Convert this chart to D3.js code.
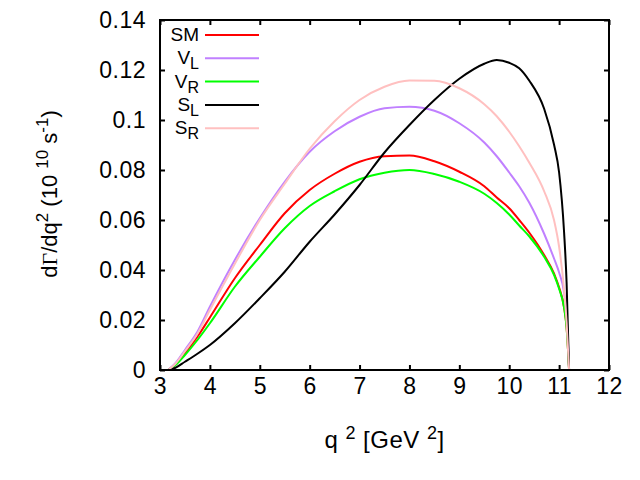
<!DOCTYPE html>
<html>
<head>
<meta charset="utf-8">
<script src="https://cdn.jsdelivr.net/npm/d3@7"></script>
<style>
  body { margin: 0; background: #fff; }
  text { font-family: "Liberation Sans", Arial, sans-serif; }
</style>
</head>
<body>
<div id="chart"></div>
<script>
// q^2 grid (GeV^2) and the five distributions
const q2 = [3.16, 3.3, 3.5, 3.75, 4, 4.5, 5, 5.5, 6, 6.5, 7, 7.5, 8, 8.5, 9, 9.5, 9.75, 10, 10.2, 10.4, 10.7, 10.9, 11.0, 11.1, 11.15, 11.2];
const sm = [0, 0.002, 0.0067, 0.0133, 0.021, 0.0367, 0.050, 0.0627, 0.072, 0.0785, 0.0833, 0.0855, 0.0858, 0.0835, 0.0793, 0.0735, 0.069, 0.0647, 0.060, 0.055, 0.046, 0.0385, 0.033, 0.025, 0.017, 0];
const vl = [0, 0.0025, 0.008, 0.0153, 0.0253, 0.044, 0.0607, 0.0753, 0.0873, 0.0955, 0.1013, 0.1047, 0.1053, 0.1037, 0.0987, 0.091, 0.0855, 0.079, 0.0735, 0.067, 0.0545, 0.0445, 0.039, 0.031, 0.022, 0];
const vr = [0, 0.0018, 0.006, 0.012, 0.0187, 0.0333, 0.0453, 0.0567, 0.0656, 0.0715, 0.0763, 0.0789, 0.080, 0.0784, 0.0753, 0.0705, 0.0668, 0.0622, 0.0578, 0.0535, 0.0453, 0.038, 0.0325, 0.025, 0.017, 0];
const sl = [0, 0.0008, 0.0033, 0.0065, 0.010, 0.0187, 0.0287, 0.0393, 0.0513, 0.0622, 0.074, 0.087, 0.098, 0.108, 0.1165, 0.1225, 0.124, 0.1229, 0.1207, 0.1158, 0.1045, 0.090, 0.079, 0.055, 0.035, 0];
const sr = [0, 0.0023, 0.0075, 0.0145, 0.024, 0.0425, 0.060, 0.0745, 0.0885, 0.0995, 0.108, 0.1133, 0.1158, 0.1157, 0.1127, 0.1063, 0.1015, 0.0953, 0.0895, 0.083, 0.0715, 0.0598, 0.0493, 0.032, 0.019, 0];

const names = [["S", "M"], ["V", "L"], ["V", "R"], ["S", "L"], ["S", "R"]];
const colors = ["#ff0000", "#c080ff", "#00ff00", "#000000", "#ffc0c0"];
const xTicks = [3, 4, 5, 6, 7, 8, 9, 10, 11, 12];
const yTicks = [0, 0.02, 0.04, 0.06, 0.08, 0.1, 0.12, 0.14];

const width = 640, height = 480;
const margin = {left: 160, right: 31, top: 20, bottom: 110};

const svg = d3.select("#chart")
  .append("svg")
  .attr("width", width)
  .attr("height", height);

svg.append("rect").attr("width", width).attr("height", height).attr("fill", "#fff");

const x = d3.scaleLinear().domain([3, 12]).range([margin.left, width - margin.right]);
const y = d3.scaleLinear().domain([0, 0.14]).range([height - margin.bottom, margin.top]);

const tick = 5;
const fmt = d3.format("~g");

// ticks on all four sides, pointing inward
svg.append("g")
  .attr("transform", `translate(0,${y(0)})`)
  .call(d3.axisBottom(x).tickValues(xTicks).tickSize(-tick).tickPadding(8).tickFormat(fmt))
  .call(g => g.select(".domain").remove());
svg.append("g")
  .attr("transform", `translate(0,${y(0.14)})`)
  .call(d3.axisTop(x).tickValues(xTicks).tickSize(-tick).tickFormat(""))
  .call(g => g.select(".domain").remove());
svg.append("g")
  .attr("transform", `translate(${x(3)},0)`)
  .call(d3.axisLeft(y).tickValues(yTicks).tickSize(-tick).tickPadding(14).tickFormat(fmt))
  .call(g => g.select(".domain").remove());
svg.append("g")
  .attr("transform", `translate(${x(12)},0)`)
  .call(d3.axisRight(y).tickValues(yTicks).tickSize(-tick).tickFormat(""))
  .call(g => g.select(".domain").remove());

svg.selectAll(".tick line").attr("stroke", "#000").attr("stroke-width", 2);
svg.selectAll(".tick text")
  .attr("fill", "#000")
  .style("font-size", "23px")
  .style("letter-spacing", "0.5px")
  .style("font-family", "Liberation Sans, Arial, sans-serif");

// curves
const series = [sm, vl, vr, sl, sr];
const line = d3.line()
  .x((d, i) => x(q2[i]))
  .y(d => y(d))
  .curve(d3.curveMonotoneX);

svg.append("g")
  .selectAll("path")
  .data(series)
  .join("path")
  .attr("fill", "none")
  .attr("stroke", (d, i) => colors[i])
  .attr("stroke-width", 2)
  .attr("d", line);

// frame
svg.append("rect")
  .attr("x", x(3)).attr("y", y(0.14))
  .attr("width", x(12) - x(3)).attr("height", y(0) - y(0.14))
  .attr("fill", "none").attr("stroke", "#000").attr("stroke-width", 2);

// legend
const key = svg.append("g");
names.forEach((n, i) => {
  const ky = 35 + i * 23.3;
  const t = key.append("text")
    .attr("x", 199).attr("y", ky + 6)
    .attr("text-anchor", "end")
    .style("font-size", "19px");
  if (n[1] === "M") {
    t.text(n[0] + n[1]);
  } else {
    t.append("tspan").text(n[0]);
    t.append("tspan").attr("dy", 5).style("font-size", "16px").text(n[1]);
  }
  key.append("line")
    .attr("x1", 205).attr("x2", 259)
    .attr("y1", ky).attr("y2", ky)
    .attr("stroke", colors[i]).attr("stroke-width", 2);
});

// axis labels
const xl = svg.append("text")
  .attr("x", (x(3) + x(12)) / 2).attr("y", 448)
  .attr("text-anchor", "middle")
  .style("font-size", "24px")
  .style("letter-spacing", "0.5px");
xl.append("tspan").text("q ");
xl.append("tspan").attr("dy", -9).style("font-size", "18px").text("2");
xl.append("tspan").attr("dy", 9).text(" [GeV ");
xl.append("tspan").attr("dy", -9).style("font-size", "18px").text("2");
xl.append("tspan").attr("dy", 9).text("]");

const yl = svg.append("text")
  .attr("transform", "translate(57,194) rotate(-90)")
  .attr("text-anchor", "middle")
  .style("font-size", "22px");
yl.append("tspan").text("d");
yl.append("tspan").style("font-family", "Liberation Serif, serif").text("Γ");
yl.append("tspan").text("/dq");
yl.append("tspan").attr("dy", -9).style("font-size", "17px").text("2");
yl.append("tspan").attr("dy", 9).text(" (10 ");
yl.append("tspan").attr("dy", -9).style("font-size", "17px").text("10");
yl.append("tspan").attr("dy", 9).text(" s");
yl.append("tspan").attr("dy", -9).style("font-size", "17px").text("-1");
yl.append("tspan").attr("dy", 9).text(")");
</script>
</body>
</html>
